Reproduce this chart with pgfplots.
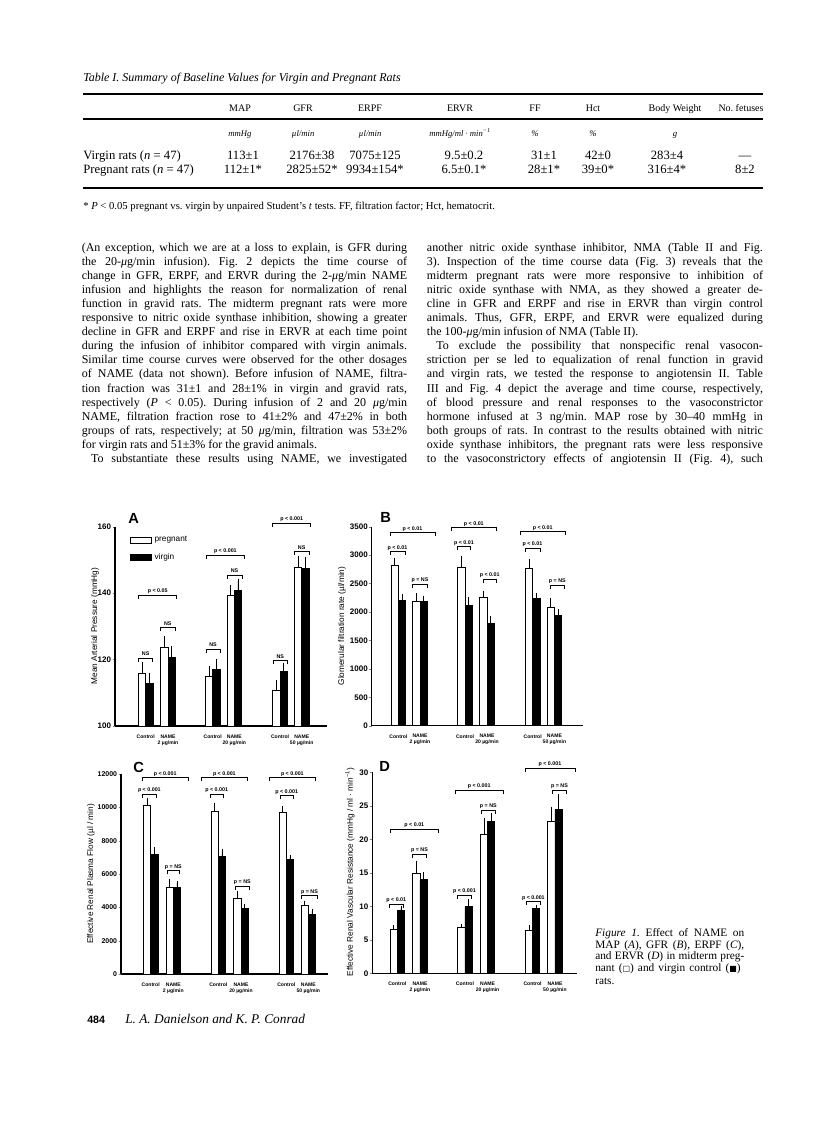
\documentclass[border=0pt]{standalone}
\usepackage{pgfplots}
\pgfplotsset{compat=1.18}
\usepackage{fontspec}
\setmainfont{Liberation Serif}
\newfontfamily\sans{Liberation Sans}
\newfontfamily\dejavu{DejaVu Sans}
\frenchspacing

\newcommand\fs[1]{\fontsize{#1}{#1}\selectfont}
\newcommand\anno{\sans\bfseries\fs{4}}

% justified text line, last line of a paragraph, bracket
\newcommand\jl[4]{\node[anchor=base west,inner sep=0pt,font=\fs{9}] at (#1,#2) {\makebox[#3][s]{#4}};}
\newcommand\lastl[3]{\node[anchor=base west,inner sep=0pt,font=\fs{9}] at (#1,#2) {#3};}
\newcommand\brk[4]{\draw[line width=0.5pt] (#1,#3+3.5) -- (#1,#3) -- (#2,#3) -- (#2,#3+3.5);
  \node[font=\anno,anchor=base,inner sep=0pt] at ({(#1+#2)/2},#3-2.6) {#4};}

\tikzset{
  preg/.style={fill=white,draw=black,line width=0.6pt},
  virg/.style={fill=black,draw=black,line width=0.6pt},
}
\pgfplotsset{
  panel/.style={
    scale only axis, anchor=south west,
    axis lines=left, axis line style={-,line width=0.8pt},
    xmin=0, ybar, bar width=7.2,
    tick align=outside, ytick pos=left,
    major tick length=1.8pt,
    xtick style={draw=none},
    scaled y ticks=false,
    /pgf/number format/assume math mode=true,
    /pgf/number format/1000 sep={},
    yticklabel style={font=\sans\bfseries\fs{6},inner sep=1pt},
    xticklabel style={font=\sans\bfseries\fontsize{3.8}{4.5}\selectfont,align=center,inner sep=0pt,yshift=-4.5pt},
    xticklabels={Control,{NAME\\2 µg/min},Control,{NAME\\20 µg/min},Control,{NAME\\50 µg/min}},
    error bars/y dir=plus, error bars/y explicit,
    error bars/error bar style={line width=0.5pt},
    error bars/error mark options={line width=0.5pt,mark size=1.6pt},
  },
}

\begin{document}
\begin{tikzpicture}
\begin{scope}[x=0.75pt,y=-0.75pt]
\path[fill=white] (0,0) rectangle (816,1135);
\coordinate (pA) at (115,726);
\coordinate (pB) at (371.7,725.7);
\coordinate (pC) at (121,974);
\coordinate (pD) at (372.3,973.3);

% ---- Table I
\node[anchor=base west,inner sep=0pt,font=\itshape\fs{9}] at (83,81) {Table I. Summary of Baseline Values for Virgin and Pregnant Rats};
\draw[line width=1.1pt] (83,94) -- (763,94);
\draw[line width=0.8pt] (83,119) -- (763,119);
\draw[line width=1.1pt] (83,188) -- (763,188);
\foreach \x/\t in {240/MAP,303/GFR,370/ERPF,460/ERVR,535/FF,593/Hct,675/Body Weight,741/No. fetuses}
  \node[anchor=base,inner sep=0pt,font=\fs{7.5}] at (\x,111) {\t};
\foreach \x/\t in {240/mmHg,303/{µl/min},370/{µl/min},460/{mmHg/ml · min\textsuperscript{−1}},535/\%,593/\%,675/g}
  \node[anchor=base,inner sep=0pt,font=\itshape\fs{6.5}] at (\x,136) {\t};
\node[anchor=base west,inner sep=0pt,font=\fs{9.5}] at (83,159) {Virgin rats (\textit{n} = 47)};
\node[anchor=base west,inner sep=0pt,font=\fs{9.5}] at (83,173) {Pregnant rats (\textit{n} = 47)};
\foreach \x/\t in {243/113±1,312/2176±38,375/7075±125,464/9.5±0.2,544/31±1,598/42±0,667/283±4,745/—}
  \node[anchor=base,inner sep=0pt,font=\fs{9.5}] at (\x,159) {\t};
\foreach \x/\t in {243/112±1*,312/2825±52*,375/9934±154*,464/6.5±0.1*,544/28±1*,598/39±0*,667/316±4*,745/8±2}
  \node[anchor=base,inner sep=0pt,font=\fs{9.5}] at (\x,173) {\t};
\node[anchor=base west,inner sep=0pt,font=\fs{8}] at (83,209) {* \textit{P} < 0.05 pregnant vs. virgin by unpaired Student's \textit{t} tests. FF, filtration factor; Hct, hematocrit.};

% ---- left column
\jl{81.5}{251.3}{244pt}{(An exception, which we are at a loss to explain, is GFR during}
\jl{81.5}{265.4}{244pt}{the 20-{\itshape μ}g/min infusion). Fig. 2 depicts the time course of}
\jl{81.5}{279.4}{244pt}{change in GFR, ERPF, and ERVR during the 2-{\itshape μ}g/min NAME}
\jl{81.5}{293.5}{244pt}{infusion and highlights the reason for normalization of renal}
\jl{81.5}{307.6}{244pt}{function in gravid rats. The midterm pregnant rats were more}
\jl{81.5}{321.7}{244pt}{responsive to nitric oxide synthase inhibition, showing a greater}
\jl{81.5}{335.7}{244pt}{decline in GFR and ERPF and rise in ERVR at each time point}
\jl{81.5}{349.8}{244pt}{during the infusion of inhibitor compared with virgin animals.}
\jl{81.5}{363.9}{244pt}{Similar time course curves were observed for the other dosages}
\jl{81.5}{377.9}{244pt}{of NAME (data not shown). Before infusion of NAME, filtra-}
\jl{81.5}{392.0}{244pt}{tion fraction was 31±1 and 28±1\% in virgin and gravid rats,}
\jl{81.5}{406.1}{244pt}{respectively (\textit{P} < 0.05). During infusion of 2 and 20 {\itshape μ}g/min}
\jl{81.5}{420.1}{244pt}{NAME, filtration fraction rose to 41±2\% and 47±2\% in both}
\jl{81.5}{434.2}{244pt}{groups of rats, respectively; at 50 {\itshape μ}g/min, filtration was 53±2\%}
\lastl{81.5}{448.3}{for virgin rats and 51±3\% for the gravid animals.}
\jl{90.8}{462.4}{237pt}{To substantiate these results using NAME, we investigated}

% ---- right column
\jl{426.7}{251.3}{252pt}{another nitric oxide synthase inhibitor, NMA (Table II and Fig.}
\jl{426.7}{265.4}{252pt}{3). Inspection of the time course data (Fig. 3) reveals that the}
\jl{426.7}{279.4}{252pt}{midterm pregnant rats were more responsive to inhibition of}
\jl{426.7}{293.5}{252pt}{nitric oxide synthase with NMA, as they showed a greater de-}
\jl{426.7}{307.6}{252pt}{cline in GFR and ERPF and rise in ERVR than virgin control}
\jl{426.7}{321.7}{252pt}{animals. Thus, GFR, ERPF, and ERVR were equalized during}
\lastl{426.7}{335.7}{the 100-{\itshape μ}g/min infusion of NMA (Table II).}
\jl{436}{349.8}{245pt}{To exclude the possibility that nonspecific renal vasocon-}
\jl{426.7}{363.9}{252pt}{striction per se led to equalization of renal function in gravid}
\jl{426.7}{377.9}{252pt}{and virgin rats, we tested the response to angiotensin II. Table}
\jl{426.7}{392.0}{252pt}{III and Fig. 4 depict the average and time course, respectively,}
\jl{426.7}{406.1}{252pt}{of blood pressure and renal responses to the vasoconstrictor}
\jl{426.7}{420.1}{252pt}{hormone infused at 3 ng/min. MAP rose by 30–40 mmHg in}
\jl{426.7}{434.2}{252pt}{both groups of rats. In contrast to the results obtained with nitric}
\jl{426.7}{448.3}{252pt}{oxide synthase inhibitors, the pregnant rats were less responsive}
\jl{426.7}{462.4}{252pt}{to the vasoconstrictory effects of angiotensin II (Fig. 4), such}

% ---- caption and footer
\node[anchor=base west,inner sep=0pt,font=\fs{8.5}] at (595,936.3) {\makebox[111.75pt][s]{\textit{Figure 1.} Effect of NAME on}};
\node[anchor=base west,inner sep=0pt,font=\fs{8.5}] at (595,948) {\makebox[111.75pt][s]{MAP (\textit{A}), GFR (\textit{B}), ERPF (\textit{C}),}};
\node[anchor=base west,inner sep=0pt,font=\fs{8.5}] at (595,959.7) {\makebox[111.75pt][s]{and ERVR (\textit{D}) in midterm preg-}};
\node[anchor=base west,inner sep=0pt,font=\fs{8.5}] at (595,971.3) {\makebox[109pt][s]{nant ({\dejavu\fs{6}□}) and virgin control ({\dejavu\fs{6}■})}};
\node[anchor=base west,inner sep=0pt,font=\fs{8.5}] at (595,984) {rats.};
\node[anchor=base west,inner sep=0pt,font=\sans\bfseries\fs{8}] at (87,1023.5) {484};
\node[anchor=base west,inner sep=0pt,font=\itshape\fs{10}] at (125,1023.5) {L. A. Danielson and K. P. Conrad};
\end{scope}

% ---- Panel A
\begin{axis}[panel, at={(pA)}, width=158.8pt, height=149.5pt, xmax=211.7,
  ymin=100, ymax=160, ytick={100,120,140,160},
  xtick={30.7,53,97.7,119.3,165,186.7},
  legend style={at={(0.07,0.965)},anchor=north west,draw=none,fill=none,
    font=\sans\fs{6.2},inner sep=0pt,row sep=3.2pt,cells={anchor=west}}]
\addplot[preg, bar shift=-3.6, legend image code/.code={\draw[fill=white,draw=black,line width=0.6pt] (0pt,-2.25pt) rectangle (15.75pt,2.25pt);}]
  table[x=x,y=y,y error=e] {
x y e
30.7 115.9 2.6
53.0 123.8 2.8
97.7 114.9 2.4
119.3 139.4 2.4
165.0 110.6 2.5
186.7 147.8 2.8
};
\addlegendentry{pregnant}
\addplot[virg, bar shift=3.6, legend image code/.code={\draw[fill=black,draw=black,line width=0.6pt] (0pt,-2.25pt) rectangle (15.75pt,2.25pt);}]
  table[x=x,y=y,y error=e] {
x y e
30.7 112.9 2.4
53.0 120.7 2.6
97.7 117.1 2.4
119.3 140.8 2.9
165.0 116.3 2.0
186.7 147.5 2.8
};
\addlegendentry{virgin}
\end{axis}

% ---- Panel B
\begin{axis}[panel, at={(pB)}, width=158.8pt, height=149.25pt, xmax=211.7,
  ymin=0, ymax=3500, ytick={0,500,...,3500},
  xtick={26.7,48.3,93.3,115.3,161,182.7}]
\addplot[preg, bar shift=-3.6] table[x=x,y=y,y error=e] {
x y e
26.7 2825 95
48.3 2190 100
93.3 2790 150
115.3 2250 90
161.0 2775 120
182.7 2080 120
};
\addplot[virg, bar shift=3.6] table[x=x,y=y,y error=e] {
x y e
26.7 2200 80
48.3 2180 70
93.3 2110 110
115.3 1800 90
161.0 2240 65
182.7 1940 75
};
\end{axis}

% ---- Panel C
\begin{axis}[panel, at={(pC)}, width=155.5pt, height=150pt, xmax=207.3,
  ymin=0, ymax=12000, ytick={0,2000,...,12000},
  yticklabel style={font=\sans\bfseries\fs{5.2},inner sep=1pt},
  xtick={29.7,52.3,97.3,120,165.3,187.3}]
\addplot[preg, bar shift=-3.6] table[x=x,y=y,y error=e] {
x y e
29.7 10100 350
52.3 5200 400
97.3 9750 400
120.0 4550 330
165.3 9700 250
187.3 4120 150
};
\addplot[virg, bar shift=3.6] table[x=x,y=y,y error=e] {
x y e
29.7 7200 280
52.3 5200 250
97.3 7050 300
120.0 3950 130
165.3 6870 170
187.3 3600 170
};
\end{axis}

% ---- Panel D
\begin{axis}[panel, at={(pD)}, width=153.2pt, height=150.75pt, xmax=204.3,
  ymin=0, ymax=30, ytick={0,5,...,30},
  xtick={25,47.7,92.7,115.3,160.3,182.7}]
\addplot[preg, bar shift=-3.6] table[x=x,y=y,y error=e] {
x y e
25.0 6.6 0.35
47.7 14.9 1.6
92.7 6.8 0.3
115.3 20.8 2.1
160.3 6.35 0.55
182.7 22.6 1.9
};
\addplot[virg, bar shift=3.6] table[x=x,y=y,y error=e] {
x y e
25.0 9.35 0.45
47.7 14.0 0.85
92.7 10.0 0.75
115.3 22.65 0.95
160.3 9.7 0.2
182.7 24.4 2.0
};
\end{axis}

% ---- panel letters, axis titles, brackets
\begin{scope}[x=0.75pt,y=-0.75pt]
\foreach \x/\y/\t in {128/518/A,380/517.5/B,133/767/C,379/766.5/D}
  \node[anchor=west,inner sep=0pt,font=\sans\bfseries\fs{11}] at (\x,\y) {\t};
\node[rotate=90,font=\sans\fs{6.2},inner sep=0pt] at (95,626) {Mean Arterial Pressure (mmHg)};
\node[rotate=90,font=\sans\fs{6.2},inner sep=0pt] at (342,626) {Glomerular filtration rate (µl/min)};
\node[rotate=90,font=\sans\fs{6.2},inner sep=0pt] at (91,874) {Effective Renal Plasma Flow (µl / min)};
\node[rotate=90,font=\sans\fs{6.2},inner sep=0pt] at (350,872) {Effective Renal Vascular Resistance (mmHg / ml · min\textsuperscript{−1})};
% A
\brk{138.7}{176.7}{595}{p < 0.05}
\brk{138.7}{152.7}{658.3}{NS}
\brk{160.3}{175.3}{627.7}{NS}
\brk{206}{244.7}{555}{p < 0.001}
\brk{206}{220}{649.3}{NS}
\brk{227}{242}{575}{NS}
\brk{272.7}{310.7}{523.3}{p < 0.001}
\brk{273.3}{287.3}{660.7}{NS}
\brk{294}{309.3}{551.7}{NS}
% B
\brk{390}{435}{532.7}{p < 0.01}
\brk{390}{405}{551.7}{p < 0.01}
\brk{412.7}{427.3}{584.3}{p = NS}
\brk{451.7}{496}{527.7}{p < 0.01}
\brk{457.3}{470.7}{546.7}{p < 0.01}
\brk{483.3}{496}{579}{p < 0.01}
\brk{520}{565.3}{531.7}{p < 0.01}
\brk{525}{540}{548.3}{p < 0.01}
\brk{550.7}{564}{585}{p = NS}
% C
\brk{142}{188.3}{777.7}{p < 0.001}
\brk{142.7}{156}{794.3}{p < 0.001}
\brk{167.3}{179.3}{870.7}{p = NS}
\brk{201}{247.7}{777.7}{p < 0.001}
\brk{210}{223.3}{794.3}{p < 0.001}
\brk{235.3}{249.3}{886}{p = NS}
\brk{269}{315.7}{777.7}{p < 0.001}
\brk{280}{293.3}{795.7}{p < 0.001}
\brk{301.7}{317.3}{895.7}{p = NS}
% D
\brk{390}{438.7}{829}{p < 0.01}
\brk{389.3}{403.3}{904.3}{p < 0.01}
\brk{412.3}{426.7}{854}{p = NS}
\brk{455}{503.3}{790}{p < 0.001}
\brk{457.3}{471.7}{895}{p < 0.001}
\brk{481.7}{495}{810}{p = NS}
\brk{525}{575}{768.3}{p < 0.001}
\brk{526.7}{540}{901.7}{p < 0.001}
\brk{552.3}{566.7}{790}{p = NS}
\end{scope}
\end{tikzpicture}
\end{document}
